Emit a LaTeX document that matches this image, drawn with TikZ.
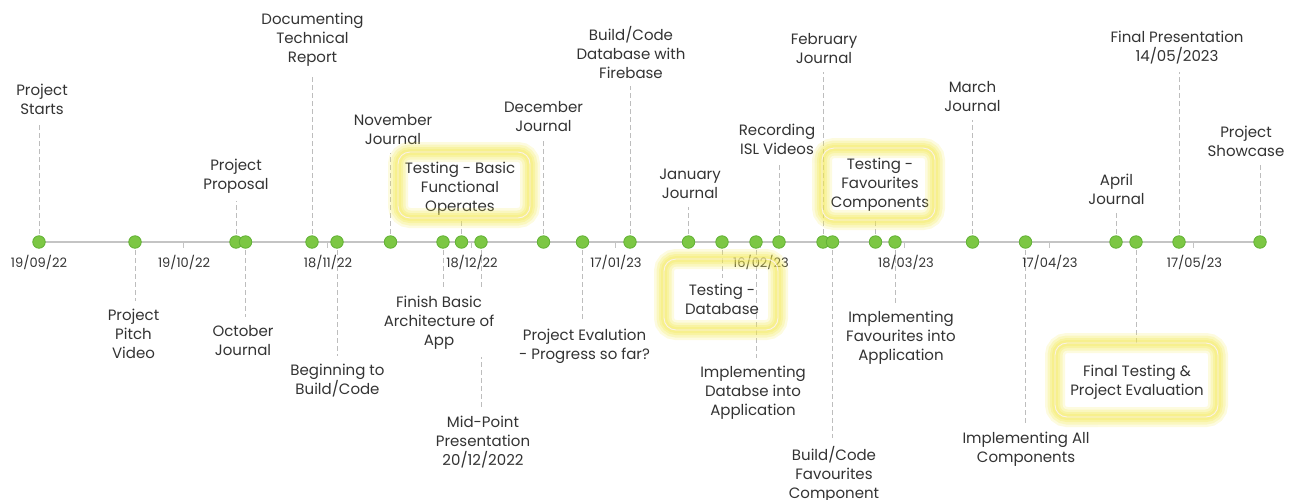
\documentclass[tikz,border=0pt]{standalone}
\usepackage{fontspec}
\setmainfont{Poppins}
\usetikzlibrary{calc}

\definecolor{axisgray}{HTML}{C4C4C4}
\definecolor{dashgray}{HTML}{BDBDBD}
\definecolor{dotgreen}{HTML}{7CC744}
\definecolor{dotedge}{HTML}{62B235}
\definecolor{txt}{HTML}{333333}
\definecolor{glowy}{HTML}{F2E84E}
\definecolor{rimline}{HTML}{FBF1E6}

\pgfdeclarelayer{connect}
\pgfdeclarelayer{glow}
\pgfdeclarelayer{top}
\pgfsetlayers{connect,main,glow,top}

\tikzset{
  x=1pt, y=-1pt,
  evt/.style={circle, fill=dotgreen, draw=dotedge, line width=0.8pt,
    minimum size=12.5pt, inner sep=0pt},
  axisline/.style={draw=axisgray, line width=1.4pt},
  tickmark/.style={draw=axisgray, line width=1pt},
  connector/.style={draw=dashgray, line width=0.8pt, dash pattern=on 5pt off 3pt},
  lbl/.style={align=center, font=\fontsize{15}{19}\selectfont, text=txt,
    fill=white, inner sep=8pt},
  boxtext/.style={align=center, font=\fontsize{15}{19}\selectfont, text=txt,
    inner sep=6pt},
  datelbl/.style={font=\fontsize{13}{16}\selectfont, text=txt, inner sep=0pt},
  glowbox/.style={rectangle, rounded corners=12pt, draw=rimline, line width=0.9pt,
    preaction={draw=glowy, line width=20pt, draw opacity=0.18},
    preaction={draw=glowy, line width=15pt, draw opacity=0.22},
    preaction={draw=glowy, line width=10pt, draw opacity=0.25},
    preaction={draw=glowy, line width=6pt, draw opacity=0.25},
    inner sep=0pt},
}

\begin{document}
\begin{tikzpicture}
\useasboundingbox (0,0) rectangle (1296,499);

% ---- events on the time axis ----
\begin{pgfonlayer}{top}
\node[evt] (e1)  at (39,242) {};
\node[evt] (e2)  at (135,242) {};
\node[evt] (e3)  at (236,242) {};
\node[evt] (e4)  at (245.5,242) {};
\node[evt] (e5)  at (312,242) {};
\node[evt] (e6)  at (337,242) {};
\node[evt] (e7)  at (390.5,242) {};
\node[evt] (e8)  at (443,242) {};
\node[evt] (e9)  at (461.5,242) {};
\node[evt] (e10) at (481,242) {};
\node[evt] (e11) at (543.5,242) {};
\node[evt] (e12) at (582.5,242) {};
\node[evt] (e13) at (630,242) {};
\node[evt] (e14) at (688.5,242) {};
\node[evt] (e15) at (722,242) {};
\node[evt] (e16) at (756,242) {};
\node[evt] (e17) at (779,242) {};
\node[evt] (e18) at (823,242) {};
\node[evt] (e19) at (832.5,242) {};
\node[evt] (e20) at (875.5,242) {};
\node[evt] (e21) at (895,242) {};
\node[evt] (e22) at (972.5,242) {};
\node[evt] (e23) at (1025.5,242) {};
\node[evt] (e24) at (1116,242) {};
\node[evt] (e25) at (1136,242) {};
\node[evt] (e26) at (1179,242) {};
\node[evt] (e27) at (1260,242) {};
\end{pgfonlayer}

% ---- date scale ----
\node[datelbl] (d1) at (39,262)   {19/09/22};
\node[datelbl] (d2) at (184,262)  {19/10/22};
\node[datelbl] (d3) at (328,262)  {18/11/22};
\node[datelbl] (d4) at (472,262)  {18/12/22};
\node[datelbl] (d5) at (616,262)  {17/01/23};
\node[datelbl] (d6) at (761,262)  {16/02/23};
\node[datelbl] (d7) at (906,262)  {18/03/23};
\node[datelbl] (d8) at (1050,262) {17/04/23};
\node[datelbl] (d9) at (1194.5,262) {17/05/23};
\coordinate (t2) at (183.5,242);
\coordinate (t3) at (327,242);
\coordinate (t4) at (471.5,242);
\coordinate (t5) at (615.5,242);
\coordinate (t6) at (760,242);
\coordinate (t7) at (904.5,242);
\coordinate (t8) at (1049,242);
\coordinate (t9) at (1193.5,242);

% ---- labels above the axis ----
\node[lbl] (l1)  at (42,99.5)   {Project\\Starts};
\node[lbl] (l3)  at (236,176)   {Project\\Proposal};
\node[lbl] (l5)  at (312.5,40)  {Documenting\\Technical\\Report};
\node[lbl] (l7)  at (393,129.5) {November\\Journal};
\node[lbl] (l11) at (543.5,116.5) {December\\Journal};
\node[lbl] (l13) at (631,52)    {Build/Code\\Database with\\Firebase};
\node[lbl] (l14) at (690,183.5) {January\\Journal};
\node[lbl] (l17) at (777,139.5) {Recording\\ISL Videos};
\node[lbl] (l18) at (824,49)    {February\\Journal};
\node[lbl] (l22) at (972.5,97)  {March\\Journal};
\node[lbl] (l24) at (1116.5,189.5) {April\\Journal};
\node[lbl] (l26) at (1177,47.5) {Final Presentation\\14/05/2023};
\node[lbl] (l27) at (1246,141.5) {Project\\Showcase};

% ---- labels below the axis ----
\node[lbl] (l2)  at (133.5,334) {Project\\Pitch\\Video};
\node[lbl] (l4)  at (243,340.5) {October\\Journal};
\node[lbl] (l6)  at (337.5,381) {Beginning to\\Build/Code};
\node[lbl] (l10) at (483,442)   {Mid-Point\\Presentation\\20/12/2022};
\node[lbl] (l8)  at (439,322.5) {Finish Basic\\Architecture of\\App};
\node[lbl] (l12) at (584.5,346) {Project Evalution\\- Progress so far?};
\node[lbl] (l16) at (753,393)   {Implementing\\Databse into\\Application};
\node[lbl] (l19) at (834,474)   {Build/Code\\Favourites\\Component};
\node[lbl] (l21) at (901,338)   {Implementing\\Favourites into\\Application};
\node[lbl] (l23) at (1026,449.5) {Implementing All\\Components};

% ---- highlighted testing milestones ----
\node[boxtext] (l9)  at (460,189)  {Testing - Basic\\Functional\\Operates};
\node[boxtext] (l15) at (722,299)  {Testing -\\Database};
\node[boxtext] (l20) at (880,184.5) {Testing -\\Favourites\\Components};
\node[boxtext] (l25) at (1137,382) {Final Testing \&\\Project Evaluation};

\begin{pgfonlayer}{glow}
\node[glowbox, minimum width=132pt, minimum height=66pt]  (g9)  at (464,185)   {};
\node[glowbox, minimum width=114pt, minimum height=71pt]  (g15) at (721,294.5) {};
\node[glowbox, minimum width=113pt, minimum height=72pt]  (g20) at (878.5,184)  {};
\node[glowbox, minimum width=163pt, minimum height=74pt]  (g25) at (1136.5,380) {};
\end{pgfonlayer}

% ---- axis, ticks and leader lines ----
\begin{pgfonlayer}{connect}
\draw[axisline] (e1.center) -- (e27.center);
\foreach \t in {t2,t3,t4,t5,t6,t7,t8,t9}
  \draw[tickmark] (\t) -- ++(0,6);
% leaders to labels above
\foreach \e/\l in {e1/l1,e3/l3,e5/l5,e7/l7,e11/l11,e13/l13,e14/l14,
                   e17/l17,e18/l18,e22/l22,e24/l24,e26/l26,e27/l27}
  \draw[connector] (\e.center) -- (\e |- \l.south);
% leaders to labels below
\foreach \e/\l in {e2/l2,e4/l4,e6/l6,e8/l8,e10/l10,e12/l12,e16/l16,
                   e19/l19,e21/l21,e23/l23}
  \draw[connector] (\e.center) -- (\e |- \l.north);
% leaders to the highlighted boxes
\draw[connector] (e9.center)  -- (e9 |- g9.south);
\draw[connector] (e15.center) -- (e15 |- l15.north);
\draw[connector] (e20.center) -- (e20 |- g20.south);
\draw[connector] (e25.center) -- (e25 |- g25.north);
\end{pgfonlayer}
\end{tikzpicture}
\end{document}
